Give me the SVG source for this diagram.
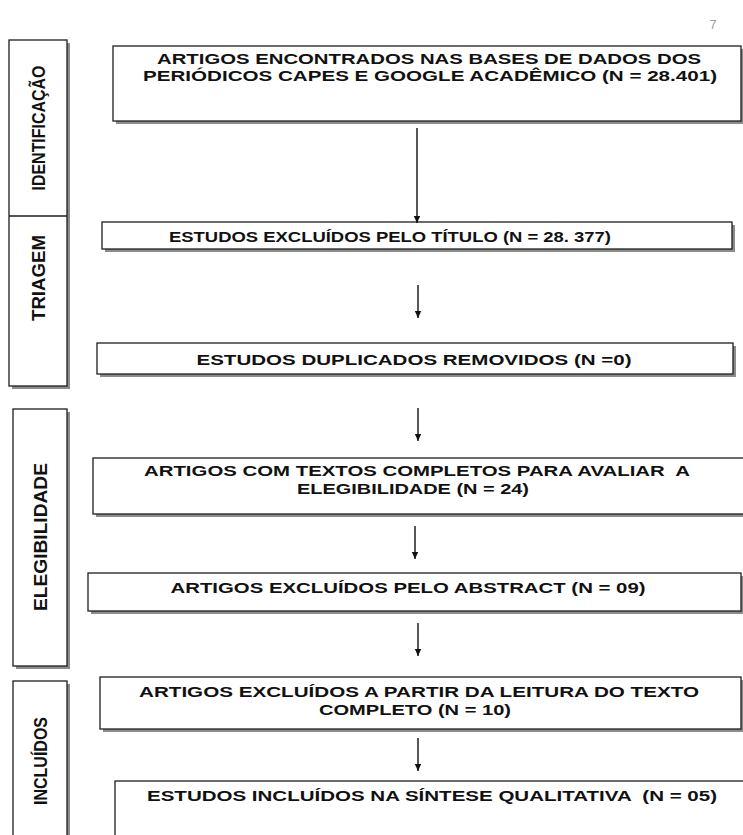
<svg xmlns="http://www.w3.org/2000/svg" width="743" height="835" viewBox="0 0 743 835">
<style>
.box{fill:#fff;stroke:#1e1e1e;stroke-width:1.3}
.sh{fill:#8c8c8c}
.t{font-family:"Liberation Sans",Arial,sans-serif;font-weight:bold;font-size:15.5px;fill:#111;text-anchor:middle;white-space:pre}
.s{font-family:"Liberation Sans Narrow","Liberation Sans",Arial,sans-serif;font-weight:bold;font-size:19px;fill:#111;text-anchor:middle}
.c{stroke:#111;stroke-width:1.4;fill:none}
</style>
<defs>
<marker id="ah" markerWidth="8" markerHeight="8" refX="7" refY="4" orient="auto" markerUnits="userSpaceOnUse">
<path d="M0,0.8 L7,4 L0,7.2 Z" fill="#111"/>
</marker>
</defs>
<rect width="743" height="835" fill="#fff"/>
<text x="713" y="29" font-family="Liberation Sans,Arial,sans-serif" font-size="12" fill="#9a9a9a" text-anchor="middle">7</text>

<g id="stage-identificacao-triagem">
<rect class="sh" x="12" y="43" width="58" height="346"/>
<rect class="box" x="9" y="40" width="58" height="346"/>
<line x1="9" y1="216" x2="67" y2="216" stroke="#1e1e1e" stroke-width="1.3"/>
<text class="s" transform="translate(45,128) rotate(-90)" textLength="125" lengthAdjust="spacingAndGlyphs">IDENTIFICAÇÃO</text>
<text class="s" transform="translate(45,278) rotate(-90)" textLength="86" lengthAdjust="spacingAndGlyphs">TRIAGEM</text>
</g>
<g id="stage-elegibilidade">
<rect class="sh" x="16" y="412" width="54" height="257"/>
<rect class="box" x="13" y="409" width="54" height="257"/>
<text class="s" transform="translate(47,537) rotate(-90)" textLength="148" lengthAdjust="spacingAndGlyphs">ELEGIBILIDADE</text>
</g>
<g id="stage-incluidos">
<rect class="sh" x="16" y="684" width="54" height="170"/>
<rect class="box" x="13" y="681" width="54" height="170"/>
<text class="s" transform="translate(47,761) rotate(-90)" textLength="88" lengthAdjust="spacingAndGlyphs">INCLUÍDOS</text>
</g>

<g id="n1">
<rect class="sh" x="116" y="49" width="628" height="75"/>
<rect class="box" x="113" y="46" width="628" height="75"/>
<text class="t" x="429" y="64" textLength="544" lengthAdjust="spacingAndGlyphs">ARTIGOS ENCONTRADOS NAS BASES DE DADOS DOS</text>
<text class="t" x="430" y="81" textLength="574" lengthAdjust="spacingAndGlyphs">PERIÓDICOS CAPES E GOOGLE ACADÊMICO (N = 28.401)</text>
</g>
<g id="n2">
<rect class="sh" x="105" y="225" width="630" height="27"/>
<rect class="box" x="102" y="222" width="630" height="27"/>
<text class="t" x="390" y="242" textLength="442" lengthAdjust="spacingAndGlyphs">ESTUDOS EXCLUÍDOS PELO TÍTULO (N = 28. 377)</text>
</g>
<g id="n3">
<rect class="sh" x="100" y="346" width="636" height="31"/>
<rect class="box" x="97" y="343" width="636" height="31"/>
<text class="t" x="414" y="365" textLength="435" lengthAdjust="spacingAndGlyphs">ESTUDOS DUPLICADOS REMOVIDOS (N =0)</text>
</g>
<g id="n4">
<rect class="sh" x="96" y="461" width="660" height="56"/>
<rect class="box" x="93" y="458" width="660" height="56"/>
<text class="t" x="417" y="476" textLength="546" lengthAdjust="spacingAndGlyphs">ARTIGOS COM TEXTOS COMPLETOS PARA AVALIAR  A</text>
<text class="t" x="413" y="494" textLength="232" lengthAdjust="spacingAndGlyphs">ELEGIBILIDADE (N = 24)</text>
</g>
<g id="n5">
<rect class="sh" x="91" y="576" width="653" height="38"/>
<rect class="box" x="88" y="573" width="653" height="38"/>
<text class="t" x="408" y="593" textLength="475" lengthAdjust="spacingAndGlyphs">ARTIGOS EXCLUÍDOS PELO ABSTRACT (N = 09)</text>
</g>
<g id="n6">
<rect class="sh" x="103" y="680" width="641" height="52"/>
<rect class="box" x="100" y="677" width="641" height="52"/>
<text class="t" x="419" y="697" textLength="560" lengthAdjust="spacingAndGlyphs">ARTIGOS EXCLUÍDOS A PARTIR DA LEITURA DO TEXTO</text>
<text class="t" x="415" y="715" textLength="192" lengthAdjust="spacingAndGlyphs">COMPLETO (N = 10)</text>
</g>
<g id="n7">
<rect class="sh" x="118" y="784" width="640" height="70"/>
<rect class="box" x="115" y="781" width="640" height="70"/>
<text class="t" x="432" y="801" textLength="570" lengthAdjust="spacingAndGlyphs">ESTUDOS INCLUÍDOS NA SÍNTESE QUALITATIVA  (N = 05)</text>
</g>

<g id="connectors">
<line class="c" x1="417" y1="128" x2="417" y2="223" marker-end="url(#ah)"/>
<line class="c" x1="418" y1="285" x2="418" y2="318" marker-end="url(#ah)"/>
<line class="c" x1="418" y1="408" x2="418" y2="441" marker-end="url(#ah)"/>
<line class="c" x1="415" y1="526" x2="415" y2="559" marker-end="url(#ah)"/>
<line class="c" x1="418" y1="623" x2="418" y2="656" marker-end="url(#ah)"/>
<line class="c" x1="418" y1="738" x2="418" y2="771" marker-end="url(#ah)"/>
</g>
</svg>
